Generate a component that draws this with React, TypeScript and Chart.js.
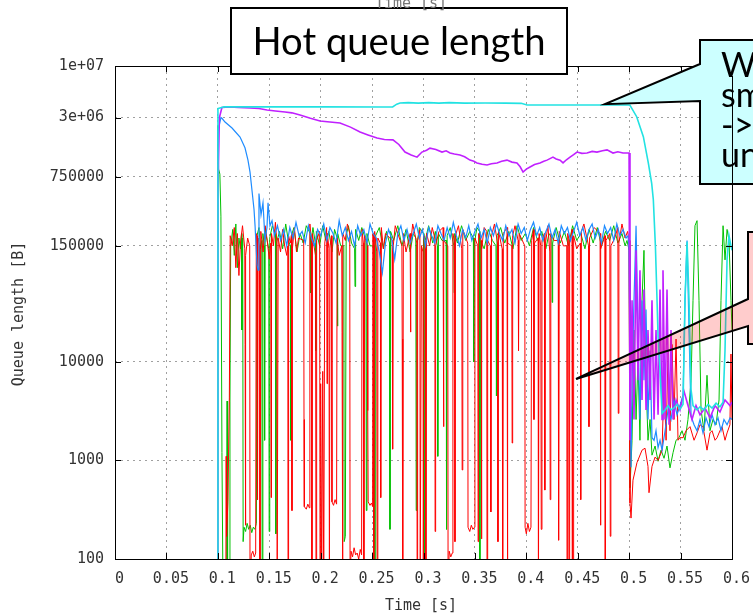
import React, { useEffect, useRef } from "react";
import { Chart, registerables } from "chart.js";

Chart.register(...registerables);

// ---------- axis / text data ----------
const xTickValues = [0, 0.05, 0.1, 0.15, 0.2, 0.25, 0.3, 0.35, 0.4, 0.45, 0.5, 0.55, 0.6];
const xTickLabels = ["0", "0.05", "0.1", "0.15", "0.2", "0.25", "0.3", "0.35", "0.4", "0.45", "0.5", "0.55", "0.6"];
const yTickValues = [100, 1000, 10000, 150000, 750000, 3000000, 10000000];
const yTickLabels = ["100", "1000", "10000", "150000", "750000", "3e+06", "1e+07"];
const xAxisTitle = "Time [s]";
const yAxisTitle = "Queue length [B]";
const chartTitle = "Hot queue length";
const calloutLines = ["W", "sm", "->", "un"];
const cyanCalloutTip = [0.4765, 4100000];
const pinkCalloutTip = [0.4483, 6700];

// ---------- series (time [s], queue length [B]) ----------
const cyanSeries = [
  [0.0950, 50], [0.0999, 50], [0.1001, 3700000], [0.1060, 3850000], [0.1500, 3850000], [0.2000, 3850000],
  [0.2600, 3840000], [0.2700, 3840000], [0.2740, 4100000], [0.2772, 4220000], [0.2850, 4250000], [0.2950, 4200000],
  [0.3050, 4250000], [0.3150, 4200000], [0.3250, 4250000], [0.3400, 4200000], [0.3600, 4220000], [0.3800, 4200000],
  [0.3950, 4180000], [0.4007, 4020000], [0.4500, 4020000], [0.4989, 4020000], [0.5008, 4000000], [0.5073, 3060000],
  [0.5138, 1920000], [0.5187, 1030000], [0.5219, 646000], [0.5235, 440000], [0.5255, 150000], [0.5271, 42000],
  [0.5281, 18000], [0.5300, 8300], [0.5320, 3000], [0.5349, 3250], [0.5378, 3600], [0.5407, 3250], [0.5436, 3400],
  [0.5465, 3700], [0.5494, 3300], [0.5524, 3700], [0.5543, 42000], [0.5563, 165000], [0.5582, 42000], [0.5602, 5200],
  [0.5621, 3600], [0.5660, 3250], [0.5689, 3500], [0.5728, 3250], [0.5767, 3700], [0.5806, 3400], [0.5845, 3800],
  [0.5883, 3500], [0.5913, 3900], [0.5932, 13000], [0.5952, 110000], [0.5971, 190000], [0.5990, 150000], [0.6000, 135000],
];

const magentaSeries = [
  [0.0950, 50], [0.0997, 50], [0.1000, 470000], [0.1015, 3000000], [0.1040, 3800000], [0.1118, 3840000],
  [0.1200, 3800000], [0.1313, 3750000], [0.1400, 3700000], [0.1478, 3580000], [0.1560, 3500000], [0.1653, 3410000],
  [0.1720, 3350000], [0.1799, 3180000], [0.1900, 2950000], [0.1994, 2770000], [0.2090, 2700000], [0.2188, 2640000],
  [0.2290, 2400000], [0.2383, 2140000], [0.2460, 2000000], [0.2548, 1860000], [0.2620, 1800000], [0.2703, 1780000],
  [0.2760, 1600000], [0.2820, 1340000], [0.2880, 1250000], [0.2937, 1190000], [0.2985, 1340000], [0.3030, 1400000],
  [0.3063, 1470000], [0.3120, 1420000], [0.3180, 1340000], [0.3220, 1380000], [0.3258, 1310000], [0.3300, 1280000],
  [0.3355, 1250000], [0.3400, 1200000], [0.3452, 1110000], [0.3490, 1080000], [0.3520, 1040000], [0.3570, 1010000],
  [0.3618, 990000], [0.3660, 1020000], [0.3715, 1040000], [0.3760, 1080000], [0.3812, 1110000], [0.3860, 1060000],
  [0.3909, 1040000], [0.3940, 950000], [0.3968, 840000], [0.4000, 900000], [0.4036, 946000], [0.4080, 1000000],
  [0.4133, 1040000], [0.4170, 1080000], [0.4201, 1110000], [0.4230, 1150000], [0.4259, 1190000], [0.4290, 1140000],
  [0.4328, 1110000], [0.4357, 1040000], [0.4390, 1120000], [0.4425, 1190000], [0.4460, 1260000], [0.4493, 1340000],
  [0.4540, 1300000], [0.4590, 1310000], [0.4640, 1360000], [0.4687, 1340000], [0.4740, 1380000], [0.4785, 1410000],
  [0.4843, 1310000], [0.4890, 1350000], [0.4940, 1310000], [0.4999, 1310000],
  [0.5008, 1600], [0.5028, 42000], [0.5047, 2600], [0.5067, 135000], [0.5086, 6500], [0.5105, 85000], [0.5125, 4100],
  [0.5144, 54000], [0.5164, 3250], [0.5183, 21000], [0.5203, 4100], [0.5222, 42000], [0.5242, 2600], [0.5261, 21000],
  [0.5281, 2900], [0.5300, 54000], [0.5320, 2600], [0.5329, 85000], [0.5349, 2600], [0.5368, 54000], [0.5388, 2300],
  [0.5407, 21000], [0.5427, 2600], [0.5456, 4100], [0.5494, 3250], [0.5534, 5000], [0.5572, 3600], [0.5611, 2600],
  [0.5650, 3600], [0.5689, 2900], [0.5738, 3400], [0.5786, 2700], [0.5835, 3600], [0.5883, 3100], [0.5932, 4100],
  [0.5980, 3600], [0.6000, 3900],
];

const blueSeries = [
  [0.0950, 50], [0.0998, 50], [0.1002, 2200000], [0.1030, 3000000], [0.1040, 2950000], [0.1070, 2700000],
  [0.1138, 2350000], [0.1216, 1900000], [0.1264, 1480000], [0.1293, 1110000], [0.1313, 840000], [0.1332, 550000],
  [0.1352, 350000], [0.1362, 240000], [0.1381, 96000], [0.1391, 85000], [0.1400, 510000], [0.1420, 310000],
  [0.1439, 410000], [0.1459, 170000], [0.1478, 230000], [0.1488, 410000], [0.1507, 240000], [0.1527, 270000],
  [0.155, 190000], [0.158, 240000], [0.161, 170000], [0.164, 220000], [0.167, 150000], [0.170, 230000],
  [0.173, 180000], [0.176, 260000], [0.179, 190000], [0.182, 210000], [0.185, 160000], [0.188, 240000],
  [0.191, 180000], [0.194, 150000], [0.197, 220000], [0.200, 190000], [0.203, 250000], [0.206, 170000],
  [0.209, 230000], [0.212, 200000], [0.215, 160000], [0.218, 270000], [0.221, 190000], [0.224, 230000],
  [0.227, 170000], [0.230, 210000], [0.233, 150000], [0.236, 240000], [0.239, 190000], [0.242, 220000],
  [0.245, 160000], [0.248, 250000], [0.251, 200000], [0.254, 180000], [0.257, 130000], [0.260, 80000],
  [0.263, 160000], [0.266, 220000], [0.269, 180000], [0.272, 110000], [0.275, 200000], [0.278, 240000],
  [0.281, 170000], [0.284, 220000], [0.287, 160000], [0.290, 200000], [0.293, 250000], [0.296, 180000],
  [0.299, 220000], [0.302, 150000], [0.305, 230000], [0.308, 190000], [0.311, 160000], [0.314, 240000],
  [0.317, 200000], [0.320, 170000], [0.323, 230000], [0.326, 180000], [0.329, 260000], [0.332, 190000],
  [0.335, 150000], [0.338, 220000], [0.341, 180000], [0.344, 240000], [0.347, 170000], [0.350, 210000],
  [0.353, 250000], [0.356, 180000], [0.359, 220000], [0.362, 160000], [0.365, 230000], [0.368, 190000],
  [0.371, 250000], [0.374, 200000], [0.377, 170000], [0.380, 240000], [0.383, 190000], [0.386, 220000],
  [0.389, 160000], [0.392, 250000], [0.395, 200000], [0.398, 230000], [0.401, 170000], [0.404, 220000],
  [0.407, 260000], [0.410, 190000], [0.413, 230000], [0.416, 170000], [0.419, 210000], [0.422, 250000],
  [0.425, 180000], [0.428, 220000], [0.431, 160000], [0.434, 240000], [0.437, 200000], [0.440, 230000],
  [0.443, 170000], [0.446, 210000], [0.449, 260000], [0.452, 190000], [0.455, 230000], [0.458, 170000],
  [0.461, 220000], [0.464, 250000], [0.467, 180000], [0.470, 220000], [0.473, 160000], [0.476, 240000],
  [0.479, 200000], [0.482, 230000], [0.485, 170000], [0.488, 250000], [0.491, 190000], [0.494, 220000],
  [0.497, 180000],
  [0.4989, 190000], [0.4999, 135000], [0.5008, 13000], [0.5018, 850], [0.5028, 6500], [0.5047, 42000],
  [0.5067, 240000], [0.5086, 21000], [0.5105, 2600], [0.5125, 42000], [0.5144, 6500], [0.5164, 34000],
  [0.5183, 2600], [0.5203, 13000], [0.5222, 1700], [0.5242, 1600], [0.5261, 2000], [0.5281, 1350], [0.5300, 1600],
  [0.5320, 1270], [0.5349, 2000], [0.5378, 3250], [0.5407, 2600], [0.5436, 4100], [0.5465, 2900], [0.5494, 3600],
  [0.5524, 4600], [0.5543, 42000], [0.5563, 170000], [0.5582, 21000], [0.5602, 2800], [0.5631, 2300], [0.5660, 2000],
  [0.5689, 2600], [0.5718, 1900], [0.5747, 2700], [0.5776, 2200], [0.5806, 2900], [0.5835, 2300], [0.5864, 2700],
  [0.5893, 2000], [0.5922, 2600], [0.5952, 2300], [0.5981, 2700], [0.6000, 2600],
];

const redSeries = [
  [0.0950, 50], [0.1078, 50], [0.1081, 1100], [0.1085, 170], [0.1098, 380], [0.1112, 4300], [0.1120, 190000],
  [0.1140, 150000], [0.1160, 230000], [0.1175, 90000], [0.1190, 200000], [0.1205, 75000], [0.1220, 160000],
  [0.1240, 240000], [0.1262, 140000], [0.1265, 15000], [0.1268, 220], [0.1272, 120000], [0.1290, 180000],
  [0.1310, 150000], [0.1313, 50], [0.1325, 110], [0.1340, 120], [0.1355, 105], [0.1368, 115], [0.1374, 200000],
  [0.1381, 190000], [0.1386, 400], [0.1392, 180000], [0.1405, 150000], [0.1410, 50], [0.1418, 210000],
  [0.1440, 130000], [0.1460, 240000], [0.1480, 170000], [0.1500, 110000], [0.1515, 160000], [0.1518, 420],
  [0.1522, 200000], [0.1540, 150000], [0.1560, 260000], [0.1574, 160000], [0.1577, 50], [0.1584, 50],
  [0.1587, 180000], [0.1610, 130000], [0.1630, 220000], [0.1650, 150000], [0.1670, 120000], [0.1680, 150000],
  [0.1683, 50], [0.1688, 190000], [0.1705, 160000], [0.1718, 200000], [0.1721, 310], [0.1725, 140000],
  [0.1745, 230000], [0.1765, 130000], [0.1785, 180000], [0.1835, 170000], [0.1838, 2600], [0.1841, 340],
  [0.1860, 320], [0.1875, 360], [0.1890, 330], [0.1895, 250000], [0.1912, 160000], [0.1915, 50], [0.1920, 200000],
  [0.1935, 150000], [0.1950, 120000], [0.1955, 50], [0.1961, 170000], [0.1990, 210000], [0.1994, 50], [0.2000, 6000],
  [0.2010, 50], [0.2020, 8000], [0.2030, 50], [0.2040, 160000], [0.2058, 230000], [0.2062, 6000], [0.2066, 200000],
  [0.2080, 140000], [0.2085, 50], [0.2091, 150000], [0.2105, 190000], [0.2110, 380], [0.2125, 350], [0.2140, 400],
  [0.2155, 360], [0.2160, 180000], [0.2180, 120000], [0.2205, 150000], [0.2208, 20000], [0.2212, 50],
  [0.2217, 200000], [0.2240, 170000], [0.2260, 250000], [0.2283, 200000], [0.2286, 50], [0.2295, 120], [0.2310, 105],
  [0.2325, 130], [0.2340, 110], [0.2355, 115], [0.2370, 100], [0.2385, 125], [0.2398, 110], [0.2402, 220000],
  [0.2415, 160000], [0.2420, 50], [0.2428, 190000], [0.2455, 150000], [0.2458, 3200], [0.2462, 380], [0.2480, 350],
  [0.2495, 370], [0.2505, 340], [0.2509, 200000], [0.2515, 150000], [0.2518, 50], [0.2525, 210000], [0.2545, 130000],
  [0.2550, 50], [0.2556, 180000], [0.2580, 160000], [0.2584, 420], [0.2590, 230000], [0.2610, 140000],
  [0.2630, 200000], [0.2695, 170000], [0.2700, 1300], [0.2706, 150000], [0.2725, 240000], [0.2790, 150000],
  [0.2793, 17000], [0.2798, 50], [0.2804, 200000], [0.2830, 130000], [0.2870, 200000], [0.2873, 20000],
  [0.2878, 160000], [0.2895, 250000], [0.2935, 160000], [0.2938, 50], [0.2943, 170000], [0.2965, 220000],
  [0.2968, 50], [0.2975, 50], [0.2980, 150000], [0.2995, 130000], [0.2998, 50], [0.3005, 190000], [0.3020, 160000],
  [0.3023, 50], [0.3030, 200000], [0.3060, 150000], [0.3085, 230000], [0.3110, 180000], [0.3113, 190],
  [0.3118, 150000], [0.3150, 210000], [0.3190, 230000], [0.3194, 2200], [0.3199, 170000], [0.3236, 150000],
  [0.3239, 50], [0.3250, 120], [0.3265, 105], [0.3280, 115], [0.3286, 200000], [0.3303, 160000], [0.3306, 150],
  [0.3310, 190000], [0.3340, 240000], [0.3372, 140000], [0.3376, 800], [0.3382, 220000], [0.3430, 160000],
  [0.3433, 210], [0.3450, 190], [0.3465, 220], [0.3480, 200], [0.3496, 210], [0.3500, 180000], [0.3528, 150000],
  [0.3531, 150], [0.3536, 200000], [0.3560, 170000], [0.3563, 160], [0.3568, 140000], [0.3590, 230000],
  [0.3615, 210000], [0.3618, 50], [0.3624, 170000], [0.3650, 150000], [0.3655, 300], [0.3662, 190000],
  [0.3690, 250000], [0.3720, 160000], [0.3724, 150], [0.3730, 210000], [0.3765, 140000], [0.3770, 50],
  [0.3776, 200000], [0.3812, 230000], [0.3815, 50], [0.3821, 160000], [0.3858, 150000], [0.3862, 1500],
  [0.3867, 190000], [0.3890, 240000], [0.3920, 170000], [0.3924, 13000], [0.3930, 200000], [0.3985, 150000],
  [0.3988, 210], [0.4000, 180], [0.4015, 230], [0.4030, 190], [0.4045, 210], [0.4052, 170000], [0.4070, 220000],
  [0.4074, 2600], [0.4080, 160000], [0.4115, 180000], [0.4118, 50], [0.4124, 200000], [0.4140, 150000],
  [0.4145, 200], [0.4152, 170000], [0.4175, 200000], [0.4180, 500], [0.4186, 160000], [0.4210, 240000],
  [0.4228, 130000], [0.4232, 400], [0.4238, 200000], [0.4270, 170000], [0.4310, 170000], [0.4314, 155],
  [0.4320, 210000], [0.4360, 150000], [0.4393, 150000], [0.4396, 50], [0.4402, 200000], [0.4412, 180000],
  [0.4415, 50], [0.4421, 160000], [0.4445, 220000], [0.4448, 50], [0.4455, 50], [0.4460, 190000], [0.4490, 140000],
  [0.4525, 160000], [0.4529, 400], [0.4535, 210000], [0.4560, 250000], [0.4605, 150000], [0.4609, 2200],
  [0.4615, 180000], [0.4660, 230000], [0.4717, 200000], [0.4720, 220], [0.4726, 140000], [0.4765, 190000],
  [0.4768, 50], [0.4775, 170000], [0.4812, 200000], [0.4816, 170], [0.4822, 150000], [0.4860, 180000],
  [0.4890, 230000], [0.4894, 3000], [0.4900, 160000], [0.4930, 250000], [0.4960, 180000], [0.4985, 210000],
  [0.4999, 170000], [0.5008, 370], [0.5018, 260], [0.5037, 630], [0.5076, 950], [0.5125, 1270], [0.5154, 1330],
  [0.5183, 870], [0.5193, 470], [0.5222, 870], [0.5252, 1080], [0.5281, 1000], [0.5320, 1270], [0.5339, 6500],
  [0.5359, 1600], [0.5378, 13000], [0.5397, 2000], [0.5417, 15000], [0.5436, 2600], [0.5456, 17000], [0.5475, 1600],
  [0.5494, 1700], [0.5524, 1700], [0.5553, 2000], [0.5592, 2200], [0.5631, 1600], [0.5660, 1900], [0.5689, 2300],
  [0.5718, 2200], [0.5757, 1270], [0.5786, 1900], [0.5806, 2000], [0.5835, 1600], [0.5855, 1700], [0.5883, 2000],
  [0.5903, 2200], [0.5932, 1600], [0.5952, 1900], [0.5980, 2300], [0.5990, 12000], [0.6000, 2600],
];

const greenSeries = [
  [0.0950, 50], [0.0997, 50], [0.1000, 2500000], [0.1008, 900000], [0.1020, 800000], [0.1030, 300000],
  [0.1040, 1200], [0.1050, 50], [0.1085, 50], [0.1090, 4000], [0.1095, 50], [0.1110, 50], [0.1118, 4000],
  [0.1125, 150000], [0.1145, 220000], [0.1160, 120000], [0.1175, 250000], [0.1190, 90000], [0.1205, 180000],
  [0.1220, 140000], [0.1230, 200000], [0.1234, 21000], [0.1238, 150000], [0.1242, 180000], [0.1246, 150],
  [0.1255, 210], [0.1270, 190], [0.1285, 230], [0.1300, 200], [0.1315, 220], [0.1330, 185], [0.1345, 210],
  [0.1360, 200], [0.1375, 230], [0.1381, 190000], [0.1400, 230000], [0.1415, 140000], [0.1428, 170000],
  [0.1431, 50], [0.1438, 200000], [0.1452, 150000], [0.1455, 1600], [0.1460, 220000], [0.1475, 180000],
  [0.1495, 140000], [0.1499, 190], [0.1505, 180000], [0.1530, 240000], [0.1560, 200000], [0.1564, 180],
  [0.1570, 160000], [0.1600, 210000], [0.1630, 140000], [0.1660, 250000], [0.1685, 170000], [0.1705, 150000],
  [0.1709, 1600], [0.1715, 190000], [0.1740, 230000], [0.1770, 130000], [0.1800, 200000], [0.1830, 160000],
  [0.1860, 240000], [0.1898, 200000], [0.1902, 50000], [0.1908, 170000], [0.1925, 230000], [0.1948, 160000],
  [0.1952, 13000], [0.1958, 210000], [0.1990, 150000], [0.2020, 240000], [0.2050, 170000], [0.2080, 210000],
  [0.2110, 130000], [0.2135, 220000], [0.2160, 180000], [0.2163, 23000], [0.2168, 200000], [0.2195, 150000],
  [0.2225, 150000], [0.2229, 150], [0.2240, 170], [0.2248, 190000], [0.2270, 240000], [0.2300, 160000],
  [0.2330, 140000], [0.2334, 58000], [0.2340, 220000], [0.2370, 170000], [0.2400, 230000], [0.2440, 170000],
  [0.2444, 310], [0.2450, 200000], [0.2480, 150000], [0.2520, 150000], [0.2523, 50], [0.2530, 50], [0.2535, 190000],
  [0.2570, 230000], [0.2610, 140000], [0.2640, 210000], [0.2670, 160000], [0.2674, 200], [0.2680, 210000],
  [0.2710, 170000], [0.2750, 240000], [0.2790, 150000], [0.2830, 220000], [0.2870, 130000], [0.2900, 200000],
  [0.2925, 180000], [0.2929, 310], [0.2935, 150000], [0.2960, 230000], [0.3000, 200000], [0.3004, 250],
  [0.3010, 60], [0.3016, 170000], [0.3050, 240000], [0.3090, 160000], [0.3115, 210000], [0.3135, 150000],
  [0.3139, 1100], [0.3145, 200000], [0.3180, 170000], [0.3220, 170000], [0.3224, 200], [0.3230, 190000],
  [0.3260, 230000], [0.3295, 150000], [0.3298, 50000], [0.3303, 200000], [0.3330, 160000], [0.3370, 240000],
  [0.3410, 170000], [0.3450, 210000], [0.3485, 180000], [0.3489, 10000], [0.3495, 160000], [0.3520, 230000],
  [0.3545, 210000], [0.3548, 50], [0.3556, 170000], [0.3590, 140000], [0.3630, 220000], [0.3670, 170000],
  [0.3705, 150000], [0.3709, 4500], [0.3715, 190000], [0.3750, 230000], [0.3790, 160000], [0.3830, 210000],
  [0.3870, 140000], [0.3910, 240000], [0.3950, 170000], [0.3990, 200000], [0.4030, 150000], [0.4070, 230000],
  [0.4110, 170000], [0.4150, 210000], [0.4190, 140000], [0.4220, 200000], [0.4248, 180000], [0.4251, 40000],
  [0.4256, 160000], [0.4290, 230000], [0.4330, 160000], [0.4370, 210000], [0.4410, 150000], [0.4450, 240000],
  [0.4490, 170000], [0.4530, 200000], [0.4570, 140000], [0.4610, 220000], [0.4650, 160000], [0.4690, 230000],
  [0.4730, 150000], [0.4770, 210000], [0.4810, 170000], [0.4850, 240000], [0.4890, 160000], [0.4930, 200000],
  [0.4960, 150000], [0.4979, 170000], [0.4999, 135000], [0.5008, 530], [0.5028, 1600], [0.5047, 21000],
  [0.5067, 2600], [0.5086, 10500], [0.5105, 1600], [0.5125, 42000], [0.5144, 135000], [0.5164, 6500],
  [0.5183, 1600], [0.5203, 2600], [0.5222, 1130], [0.5252, 1400], [0.5281, 980], [0.5310, 1270], [0.5339, 1050],
  [0.5368, 1400], [0.5397, 840], [0.5427, 1200], [0.5456, 1600], [0.5485, 1700], [0.5514, 2000], [0.5543, 1600],
  [0.5572, 2600], [0.5602, 6500], [0.5621, 42000], [0.5640, 240000], [0.5660, 270000], [0.5679, 42000],
  [0.5699, 3250], [0.5728, 2000], [0.5757, 7300], [0.5786, 2000], [0.5815, 2600], [0.5845, 2300], [0.5874, 4100],
  [0.5893, 42000], [0.5913, 240000], [0.5932, 108000], [0.5952, 220000], [0.5971, 170000], [0.5990, 42000],
  [0.6000, 21000],
];

const toXY = (arr: number[][]) => arr.map(([x, y]) => ({ x, y }));

const MONO = '"DejaVu Sans Mono", monospace';
const DISPLAY = 'Lato, "DejaVu Sans", sans-serif';

const zeroPadding = (s: any) => {
  s.paddingLeft = 0;
  s.paddingRight = 0;
  s.paddingTop = 0;
  s.paddingBottom = 0;
};

const decorPlugin = {
  id: "decor",
  afterDatasetsDraw(chart: any) {
    const { ctx, chartArea: a, scales } = chart;
    ctx.save();
    ctx.strokeStyle = "#000";
    ctx.lineWidth = 1;
    ctx.beginPath();
    xTickValues.forEach((v) => {
      const px = Math.round(scales.x.getPixelForValue(v)) + 0.5;
      ctx.moveTo(px, a.bottom);
      ctx.lineTo(px, a.bottom - 6);
      ctx.moveTo(px, a.top);
      ctx.lineTo(px, a.top + 6);
    });
    yTickValues.forEach((v) => {
      const py = Math.round(scales.y.getPixelForValue(v)) + 0.5;
      ctx.moveTo(a.left, py);
      ctx.lineTo(a.left + 6, py);
      ctx.moveTo(a.right, py);
      ctx.lineTo(a.right - 6, py);
    });
    ctx.stroke();
    ctx.strokeRect(a.left + 0.5, a.top + 0.5, a.right - a.left, a.bottom - a.top);
    ctx.restore();
  },
  afterDraw(chart: any) {
    const { ctx, scales, chartArea: a } = chart;
    ctx.save();
    // axis titles
    ctx.font = `15px ${MONO}`;
    ctx.fillStyle = "#333";
    ctx.textAlign = "center";
    ctx.textBaseline = "middle";
    ctx.fillText(xAxisTitle, 421, 606);
    ctx.save();
    ctx.translate(19, 314);
    ctx.rotate(-Math.PI / 2);
    ctx.fillText(yAxisTitle, 0, 0);
    ctx.restore();

    // title box
    ctx.fillStyle = "#fff";
    ctx.fillRect(231, 8, 336, 66);
    ctx.strokeStyle = "#000";
    ctx.lineWidth = 2;
    ctx.strokeRect(231, 8, 336, 66);
    let size = 40;
    ctx.font = `${size}px ${DISPLAY}`;
    const w = ctx.measureText(chartTitle).width;
    size = Math.min(40, (size * 293) / w);
    ctx.font = `${size}px ${DISPLAY}`;
    ctx.fillStyle = "#000";
    ctx.textAlign = "center";
    ctx.textBaseline = "alphabetic";
    ctx.fillText(chartTitle, 399, 55);

    // stray top axis label
    ctx.font = `15px ${MONO}`;
    ctx.fillStyle = "#777";
    ctx.textBaseline = "middle";
    ctx.fillText(xAxisTitle, 411, 4);

    // cyan callout
    const t1x = scales.x.getPixelForValue(cyanCalloutTip[0]);
    const t1y = scales.y.getPixelForValue(cyanCalloutTip[1]);
    ctx.beginPath();
    ctx.moveTo(700, 40);
    ctx.lineTo(780, 40);
    ctx.lineTo(780, 184);
    ctx.lineTo(700, 184);
    ctx.lineTo(700, 101);
    ctx.lineTo(t1x, t1y);
    ctx.lineTo(700, 64);
    ctx.closePath();
    ctx.fillStyle = "#ccffff";
    ctx.fill();
    ctx.lineWidth = 2;
    ctx.strokeStyle = "#000";
    ctx.stroke();
    ctx.fillStyle = "#000";
    ctx.font = `34px ${DISPLAY}`;
    ctx.textAlign = "left";
    ctx.textBaseline = "alphabetic";
    calloutLines.forEach((s, i) => ctx.fillText(s, 721, 77 + 30 * i));
    ctx.lineWidth = 1;
    ctx.beginPath();
    ctx.moveTo(Math.round(a.right) + 0.5, 76);
    ctx.lineTo(Math.round(a.right) + 0.5, 184);
    ctx.stroke();

    // pink callout
    const t2x = scales.x.getPixelForValue(pinkCalloutTip[0]);
    const t2y = scales.y.getPixelForValue(pinkCalloutTip[1]);
    ctx.beginPath();
    ctx.moveTo(748, 232);
    ctx.lineTo(780, 232);
    ctx.lineTo(780, 344);
    ctx.lineTo(748, 344);
    ctx.lineTo(748, 326);
    ctx.lineTo(t2x, t2y);
    ctx.lineTo(748, 299);
    ctx.closePath();
    ctx.fillStyle = "rgba(255,0,0,0.2)";
    ctx.fill();
    ctx.lineWidth = 2;
    ctx.strokeStyle = "#000";
    ctx.stroke();
    ctx.restore();
  },
};

export default function App() {
  const ref = useRef<HTMLCanvasElement>(null);
  useEffect(() => {
    const tickFont = { family: MONO, size: 15 };
    const chart = new Chart(ref.current as HTMLCanvasElement, {
      type: "line",
      data: {
        datasets: [
          { label: "cyan", data: toXY(cyanSeries), borderColor: "#22e2e2", borderWidth: 1.6, order: 0 },
          { label: "magenta", data: toXY(magentaSeries), borderColor: "#c020ff", borderWidth: 1.6, order: 1 },
          { label: "blue", data: toXY(blueSeries), borderColor: "#1e8cff", borderWidth: 1.2, order: 2 },
          { label: "red", data: toXY(redSeries), borderColor: "#ff0000", borderWidth: 1, order: 3 },
          { label: "green", data: toXY(greenSeries), borderColor: "#00c000", borderWidth: 1, order: 4 },
        ] as any,
      },
      options: {
        animation: false,
        responsive: false,
        events: [],
        clip: 0 as any,
        elements: { point: { radius: 0 }, line: { tension: 0, fill: false } },
        plugins: { legend: { display: false }, tooltip: { enabled: false } },
        layout: { padding: { left: 0, top: 66, right: 21, bottom: 0 } },
        scales: {
          x: {
            type: "linear",
            min: 0,
            max: 0.6,
            afterBuildTicks: (s: any) => {
              s.ticks = xTickValues.map((v) => ({ value: v }));
            },
            afterFit: (s: any) => {
              s.height = 56;
              zeroPadding(s);
            },
            ticks: {
              callback: (_v: any, i: number) => xTickLabels[i],
              autoSkip: false,
              maxRotation: 0,
              minRotation: 0,
              font: tickFont,
              color: "#333",
              padding: 11,
              labelOffset: 4.5,
            },
            grid: { color: "#a0a0a0", lineWidth: 1, drawTicks: false },
            border: { display: false, dash: [2, 4] },
          },
          y: {
            type: "logarithmic",
            min: 100,
            max: 10000000,
            afterBuildTicks: (s: any) => {
              s.ticks = yTickValues.map((v) => ({ value: v }));
            },
            afterFit: (s: any) => {
              s.width = 115;
              zeroPadding(s);
            },
            ticks: {
              callback: (_v: any, i: number) => yTickLabels[i],
              autoSkip: false,
              font: tickFont,
              color: "#333",
              padding: 11,
            },
            grid: { color: "#a0a0a0", lineWidth: 1, drawTicks: false },
            border: { display: false, dash: [2, 4] },
          },
        },
      } as any,
      plugins: [decorPlugin],
    });
    return () => chart.destroy();
  }, []);
  return (
    <div style={{ position: "absolute", left: 0, top: 0, width: 753, height: 615, background: "#fff", overflow: "hidden" }}>
      <canvas ref={ref} width={753} height={615} style={{ display: "block", width: 753, height: 615 }} />
    </div>
  );
}
